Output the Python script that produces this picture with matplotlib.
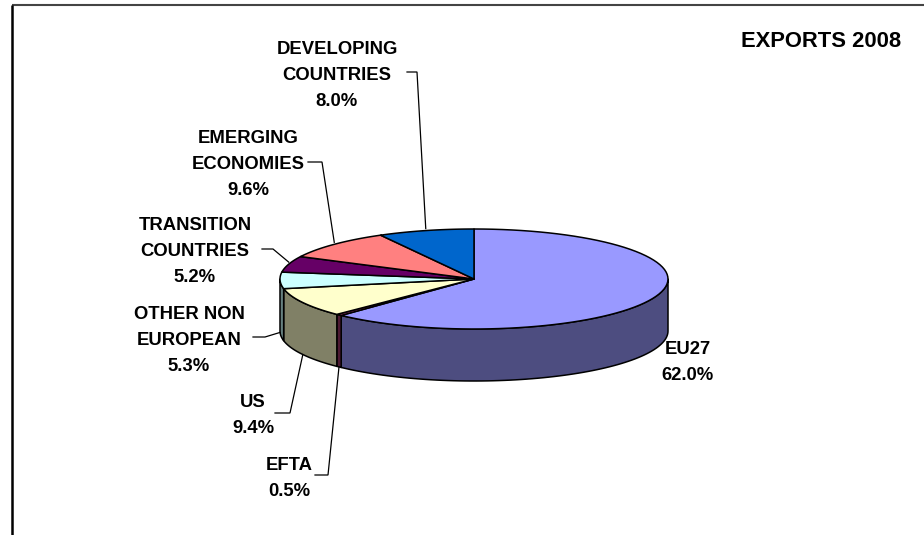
"""
Exports 2008 by destination - Excel-style 3D pie recreated with matplotlib
"""

import numpy as np
import matplotlib.pyplot as plt
from matplotlib.patches import Polygon
from matplotlib.colors import to_rgb

plt.rcParams['font.family'] = ['Liberation Sans', 'DejaVu Sans']

# data
categories = ["EU27", "EFTA", "US", "OTHER NON\nEUROPEAN", "TRANSITION\nCOUNTRIES",
              "EMERGING\nECONOMIES", "DEVELOPING\nCOUNTRIES"]
shares = [62.0, 0.5, 9.4, 5.3, 5.2, 9.6, 8.0]
colors = ["#9999FF", "#993366", "#FFFFCC", "#CCFFFF", "#660066", "#FF8080", "#0066CC"]
title = "EXPORTS 2008"

# layout (pixel space, y down)
CX, CY = 474, 279        # pie centre
A, B = 194, 50           # ellipse half axes
DEPTH = 52               # wall height
label_xy = [(688, 347), (289, 463), (253, 400), (189, 312), (195, 223), (248, 136), (337, 47)]
elbow = [None, (315, 328, 475), (275, 290, 413), (253, 265, 337),
         (262, 273, 249), (308, 322, 162), (407, 417, 72)]
LINE_PITCH = 26
FS = 13.3

fig = plt.figure(figsize=(9.24, 5.35), dpi=100)
ax = fig.add_axes([0, 0, 1, 1])
ax.set_xlim(0, 924)
ax.set_ylim(535, 0)
ax.axis("off")


def arc(t0, t1, dy=0.0, n=80):
    t = np.radians(np.linspace(t0, t1, n))
    return np.column_stack([CX + A * np.sin(t), CY - B * np.cos(t) + dy])


def shade(c, f=0.5):
    return tuple(v * f for v in to_rgb(c))


# slice angles, clockwise from 12 o'clock
edges = np.concatenate([[0], np.cumsum(shares)]) / sum(shares) * 360.0

# walls (front half only: 90..270 deg)
for i, col in enumerate(colors):
    lo, hi = max(edges[i], 90), min(edges[i + 1], 270)
    if hi <= lo:
        continue
    pts = np.vstack([arc(lo, hi), arc(lo, hi, DEPTH)[::-1]])
    ax.add_patch(Polygon(pts, closed=True, facecolor=shade(col), edgecolor="black",
                         lw=1.1, joinstyle="round"))

# top faces
for i, col in enumerate(colors):
    pts = np.vstack([[CX, CY], arc(edges[i], edges[i + 1])])
    ax.add_patch(Polygon(pts, closed=True, facecolor=col, edgecolor="black",
                         lw=1.1, joinstyle="round"))

# labels and leader lines
for i, (name, val) in enumerate(zip(categories, shares)):
    lines = name.split("\n") + [f"{val:.1f}%"]
    x0, y0 = label_xy[i]
    for k, s in enumerate(lines):
        ax.text(x0, y0 + k * LINE_PITCH + 6.6, s, ha="center", va="baseline",
                fontsize=FS, fontweight="bold", color="black")
    if elbow[i] is None:
        continue
    mid = np.radians((edges[i] + edges[i + 1]) / 2)
    px = CX + A * np.sin(mid)
    py = CY - B * np.cos(mid)
    if np.cos(mid) < 0:
        py += DEPTH
    else:
        py -= 2
    xa, xb, yl = elbow[i]
    ax.plot([xa, xb, px], [yl, yl, py], color="black", lw=0.9,
            solid_joinstyle="miter")

ax.text(821, 39 + 7.9, title, ha="center", va="baseline", fontsize=15.8,
        fontweight="bold", color="black")

# chart frame (top and left edges only)
ax.plot([12, 924], [5, 5], color="#444444", lw=1.5, solid_capstyle="butt")
ax.plot([12, 12], [5, 535], color="black", lw=1.8, solid_capstyle="butt")

fig.savefig("out.png", dpi=100)
